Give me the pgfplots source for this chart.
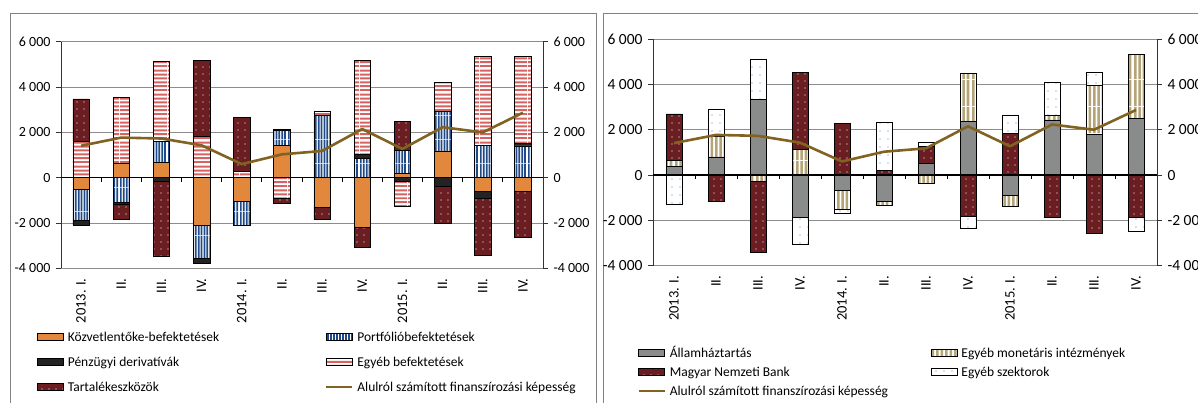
\documentclass[border=0pt]{standalone}
\usepackage{pgfplots}
\pgfplotsset{compat=1.18}
\usepackage{pgfplotstable}
\usepackage{fontspec}
\setmainfont{Carlito}
\usetikzlibrary{patterns.meta}

\definecolor{kozv}{RGB}{226,136,60}
\definecolor{portf}{RGB}{32,74,135}
\definecolor{deriv}{RGB}{35,35,35}
\definecolor{egyeb}{RGB}{214,98,98}
\definecolor{tart}{RGB}{106,30,34}
\definecolor{vonal}{RGB}{130,98,32}
\definecolor{aht}{RGB}{138,140,140}
\definecolor{emi}{RGB}{180,164,120}
\definecolor{pont}{RGB}{80,125,200}
\definecolor{racs}{RGB}{140,140,140}
\definecolor{keret}{RGB}{130,130,130}

% nagy csempes csikos mintak (kevesebb illesztesi hiba)
\pgfdeclarepatternformonly{vizszcsik}{\pgfpointorigin}{\pgfqpoint{24pt}{24pt}}{\pgfqpoint{24pt}{24pt}}{
  \pgfpathrectangle{\pgfqpoint{0pt}{0pt}}{\pgfqpoint{24pt}{2pt}}
  \pgfpathrectangle{\pgfqpoint{0pt}{4pt}}{\pgfqpoint{24pt}{2pt}}
  \pgfpathrectangle{\pgfqpoint{0pt}{8pt}}{\pgfqpoint{24pt}{2pt}}
  \pgfpathrectangle{\pgfqpoint{0pt}{12pt}}{\pgfqpoint{24pt}{2pt}}
  \pgfpathrectangle{\pgfqpoint{0pt}{16pt}}{\pgfqpoint{24pt}{2pt}}
  \pgfpathrectangle{\pgfqpoint{0pt}{20pt}}{\pgfqpoint{24pt}{2pt}}
  \pgfusepath{fill}}
\pgfdeclarepatternformonly{fuggcsik}{\pgfpointorigin}{\pgfqpoint{24pt}{24pt}}{\pgfqpoint{24pt}{24pt}}{
  \pgfpathrectangle{\pgfqpoint{0pt}{0pt}}{\pgfqpoint{1.8pt}{24pt}}
  \pgfpathrectangle{\pgfqpoint{3pt}{0pt}}{\pgfqpoint{1.8pt}{24pt}}
  \pgfpathrectangle{\pgfqpoint{6pt}{0pt}}{\pgfqpoint{1.8pt}{24pt}}
  \pgfpathrectangle{\pgfqpoint{9pt}{0pt}}{\pgfqpoint{1.8pt}{24pt}}
  \pgfpathrectangle{\pgfqpoint{12pt}{0pt}}{\pgfqpoint{1.8pt}{24pt}}
  \pgfpathrectangle{\pgfqpoint{15pt}{0pt}}{\pgfqpoint{1.8pt}{24pt}}
  \pgfpathrectangle{\pgfqpoint{18pt}{0pt}}{\pgfqpoint{1.8pt}{24pt}}
  \pgfpathrectangle{\pgfqpoint{21pt}{0pt}}{\pgfqpoint{1.8pt}{24pt}}
  \pgfusepath{fill}}
\pgfdeclarepatternformonly{szelescsik}{\pgfpointorigin}{\pgfqpoint{27pt}{27pt}}{\pgfqpoint{27pt}{27pt}}{
  \pgfpathrectangle{\pgfqpoint{0pt}{0pt}}{\pgfqpoint{2.6pt}{27pt}}
  \pgfpathrectangle{\pgfqpoint{4.5pt}{0pt}}{\pgfqpoint{2.6pt}{27pt}}
  \pgfpathrectangle{\pgfqpoint{9pt}{0pt}}{\pgfqpoint{2.6pt}{27pt}}
  \pgfpathrectangle{\pgfqpoint{13.5pt}{0pt}}{\pgfqpoint{2.6pt}{27pt}}
  \pgfpathrectangle{\pgfqpoint{18pt}{0pt}}{\pgfqpoint{2.6pt}{27pt}}
  \pgfpathrectangle{\pgfqpoint{22.5pt}{0pt}}{\pgfqpoint{2.6pt}{27pt}}
  \pgfusepath{fill}}

% negyedeves adatok (millio euro), finanszirozasi oldal
\pgfplotstableread{
x  kozv   portf  deriv  egyeb  tart   kep
0  -530  -1350   -220   1620   1860   1410
1   630  -1100    -60   2940   -680   1770
2   700    890   -160   3560  -3310   1730
3 -2100  -1440   -240   1840   3350   1430
4 -1030  -1070      0    270   2390    600
5  1410    690     30   -920   -200   1030
6 -1290   2760      0    180   -560   1180
7 -2200    850    190   4150   -890   2150
8   190   1030   -150  -1100   1280   1270
9  1180   1760   -370   1260  -1660   2230
10 -600   1410   -300   3960  -2530   2000
11 -600   1400    110   3860  -2020   2870
}\bal

% szektoronkent
\pgfplotstableread{
x   aht   emi   mnb   esz   kep
0   370   280  2050 -1280  1410
1   800   930 -1160  1190  1770
2  3330  -280 -3130  1770  1730
3 -1870  1140  3380 -1170  1430
4  -660  -870  2280  -160   600
5 -1160  -180   220  2110  1030
6   500  -350   760   180  1180
7  2370  2100 -1820  -510  2150
8  -910  -470  1850   800  1270
9  2430   190 -1840  1450  2230
10 1810  2150 -2560   560  2000
11 2500  2830 -1870  -620  2870
}\jobb

\pgfplotsset{
  oszlop/.style={draw=black, line width=0.6pt,
    legend image code/.code={\draw[##1] (0pt,-3.5pt) rectangle (26pt,3.5pt);}},
  kozvS/.style={oszlop, fill=kozv},
  portfS/.style={oszlop, fill=white, postaction={pattern=fuggcsik, pattern color=portf}},
  derivS/.style={oszlop, fill=deriv},
  egyebS/.style={oszlop, fill=white, postaction={pattern=vizszcsik, pattern color=egyeb}},
  tartS/.style={oszlop, fill=tart, postaction={pattern={Dots[distance=7pt,radius=0.6pt]}, pattern color=white}},
  ahtS/.style={oszlop, fill=aht},
  emiS/.style={oszlop, fill=white, postaction={pattern=szelescsik, pattern color=emi}},
  eszS/.style={oszlop, fill=white, postaction={pattern={Dots[distance=8pt,radius=0.6pt]}, pattern color=pont}},
  vonalS/.style={color=vonal, line width=2.6pt, line join=round, mark=none,
    legend image code/.code={\draw[##1] (0pt,0pt) -- (26pt,0pt);}},
  kozos/.style={scale only axis, xmin=-0.5, xmax=11.5, ymin=-4000, ymax=6000,
    ytick={-4000,-2000,...,6000}, yticklabels={-4 000,-2 000,0,2 000,4 000,6 000},
    tick align=outside, major tick length=5pt,
    y axis line style={black!80, line width=0.8pt}, ytick style={black!80, line width=0.8pt}},
  balP/.style={kozos, width=482pt, height=226.5pt, at={(61pt,-268.3pt)}, anchor=south west,
    yticklabel style={font=\fontsize{14}{16}\selectfont}, bar width=16.5pt},
  jobbP/.style={kozos, width=504pt, height=226.8pt, at={(653pt,-265.8pt)}, anchor=south west,
    yticklabel style={font=\fontsize{15.5}{17}\selectfont}, bar width=16pt},
  alap/.style={ybar stacked, ymajorgrids, major grid style={racs, line width=0.8pt},
    axis x line*=bottom, axis y line*=left, x axis line style={draw=none},
    xtick={0,...,11}, xtick style={draw=none},
    xticklabels={2013. I.,II.,III.,IV.,2014. I.,II.,III.,IV.,2015. I.,II.,III.,IV.},
    xticklabel style={rotate=90, anchor=east, font=\fontsize{14.5}{16}\selectfont, inner sep=1pt},
    xticklabel shift=4pt, yticklabel shift=2pt,
    legend columns=2, legend cell align=left},
  rejtett/.style={ybar stacked, hide axis},
  vonalax/.style={hide x axis, axis y line*=right, yticklabel shift=2pt},
  jelm/.style={draw=none, fill=none, inner sep=0pt, anchor=north west,
    font=\fontsize{13.5}{15}\selectfont, nodes={inner sep=1pt},
    /tikz/every odd column/.append style={column sep=3pt}},
}

\begin{document}
\begin{tikzpicture}
\useasboundingbox (0pt,0pt) rectangle (1198pt,-403pt);

% keretek
\draw[keret, line width=1pt] (10pt,-410pt) -- (10pt,-14pt) -- (596pt,-14pt) -- (596pt,-410pt);
\draw[keret, line width=1pt] (603pt,-410pt) -- (603pt,-14pt) -- (1210pt,-14pt);

% ---- bal panel: pozitiv reszek + jelmagyarazat
\begin{axis}[balP, alap,
  legend style={jelm, at={(-0.0498,-0.272)}, row sep=11pt}]
\addplot[kozvS] table[x=x, y expr={max(\thisrow{kozv},0)}] {\bal};
\addlegendentry{\makebox[256pt][l]{\strut Közvetlentőke-befektetések}}
\addplot[portfS] table[x=x, y expr={max(\thisrow{portf},0)}] {\bal};
\addlegendentry{\strut Portfólióbefektetések}
\addplot[derivS] table[x=x, y expr={max(\thisrow{deriv},0)}] {\bal};
\addlegendentry{\makebox[256pt][l]{\strut Pénzügyi derivatívák}}
\addplot[egyebS] table[x=x, y expr={max(\thisrow{egyeb},0)}] {\bal};
\addlegendentry{\strut Egyéb befektetések}
\addplot[tartS] table[x=x, y expr={max(\thisrow{tart},0)}] {\bal};
\addlegendentry{\makebox[256pt][l]{\strut Tartalékeszközök}}
\addlegendimage{vonalS}
\addlegendentry{\strut Alulról számított finanszírozási képesség}
\end{axis}
% negativ reszek
\begin{axis}[balP, rejtett]
\addplot[kozvS] table[x=x, y expr={min(\thisrow{kozv},0)}] {\bal};
\addplot[portfS] table[x=x, y expr={min(\thisrow{portf},0)}] {\bal};
\addplot[derivS] table[x=x, y expr={min(\thisrow{deriv},0)}] {\bal};
\addplot[egyebS] table[x=x, y expr={min(\thisrow{egyeb},0)}] {\bal};
\addplot[tartS] table[x=x, y expr={min(\thisrow{tart},0)}] {\bal};
\end{axis}
% vonal, nulla tengely, jobb y tengely
\begin{axis}[balP, vonalax]
\draw[black, line width=1.2pt] (axis cs:-0.5,0) -- (axis cs:11.5,0);
\pgfplotsinvokeforeach{0,...,10}{\draw[black, line width=0.8pt] (axis cs:#1.5,0) -- ++(0pt,-4pt);}
\addplot[vonalS] table[x=x, y=kep] {\bal};
\end{axis}

% ---- jobb panel
\begin{axis}[jobbP, alap,
  legend style={jelm, at={(-0.0317,-0.350)}, row sep=5pt}]
\addplot[ahtS] table[x=x, y expr={max(\thisrow{aht},0)}] {\jobb};
\addlegendentry{\makebox[260pt][l]{\strut Államháztartás}}
\addplot[emiS] table[x=x, y expr={max(\thisrow{emi},0)}] {\jobb};
\addlegendentry{\strut Egyéb monetáris intézmények}
\addplot[tartS] table[x=x, y expr={max(\thisrow{mnb},0)}] {\jobb};
\addlegendentry{\makebox[260pt][l]{\strut Magyar Nemzeti Bank}}
\addplot[eszS] table[x=x, y expr={max(\thisrow{esz},0)}] {\jobb};
\addlegendentry{\strut Egyéb szektorok}
\addlegendimage{vonalS}
\addlegendentry{\makebox[260pt][l]{\strut Alulról számított finanszírozási képesség}}
\end{axis}
\begin{axis}[jobbP, rejtett]
\addplot[ahtS] table[x=x, y expr={min(\thisrow{aht},0)}] {\jobb};
\addplot[emiS] table[x=x, y expr={min(\thisrow{emi},0)}] {\jobb};
\addplot[tartS] table[x=x, y expr={min(\thisrow{mnb},0)}] {\jobb};
\addplot[eszS] table[x=x, y expr={min(\thisrow{esz},0)}] {\jobb};
\end{axis}
\begin{axis}[jobbP, vonalax]
\draw[black, line width=1.2pt] (axis cs:-0.5,0) -- (axis cs:11.5,0);
\pgfplotsinvokeforeach{0,...,10}{\draw[black, line width=0.8pt] (axis cs:#1.5,0) -- ++(0pt,-4pt);}
\addplot[vonalS] table[x=x, y=kep] {\jobb};
\end{axis}
\end{tikzpicture}
\end{document}
